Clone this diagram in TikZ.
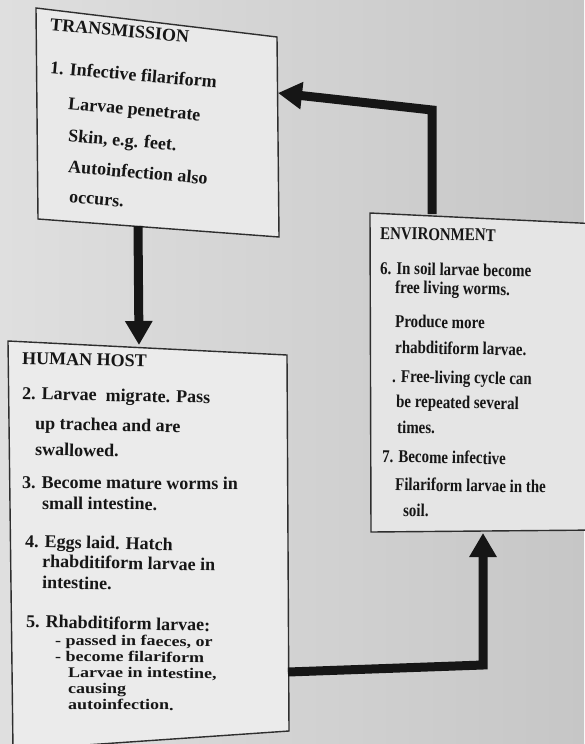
\documentclass[tikz,border=0pt]{standalone}
\usepackage{fontspec}
\setmainfont{Liberation Serif}
\usepackage{graphicx}
\usetikzlibrary{arrows.meta}
\definecolor{bgL}{HTML}{DFDFDF}
\definecolor{bgR}{HTML}{C6C6C6}
\definecolor{boxT}{HTML}{E9E9E9}
\definecolor{boxH}{HTML}{EBEBEB}
\definecolor{boxE}{HTML}{E5E5E5}
\definecolor{frame}{HTML}{2E2E2E}
\definecolor{ink}{HTML}{161616}
\newcommand{\squash}[1]{\scalebox{1}[0.82]{#1}}
\begin{document}
\begin{tikzpicture}[x=1pt,y=-1pt,
  txt/.style={anchor=mid west, inner sep=0pt, text height=11.5pt, text depth=2.5pt, font=\fontsize{18}{20}\selectfont\bfseries, text=ink},
  ttxt/.style={txt, rotate=-5},
  htxt/.style={txt, rotate=-1.2},
  hsmall/.style={txt, rotate=-0.4},
  etxt/.style={txt, rotate=-1},
  boxline/.style={draw=frame, line width=1.4pt, line join=miter},
  flow/.style={draw=ink, line width=9pt, line join=miter, -{Triangle[length=24pt,width=26pt]}}]
\path[use as bounding box] (0,0) rectangle (584,744);
\shade[left color=bgL, right color=bgR] (0,0) rectangle (584,744);

% boxes
\coordinate (tTL) at (36,8);
\coordinate (tTR) at (277,37);
\coordinate (tBR) at (279,237);
\coordinate (tBL) at (38,219);
\draw[boxline, fill=boxT] (tTL) -- (tTR) -- (tBR) -- (tBL) -- cycle;

\coordinate (hTL) at (8,341);
\coordinate (hTR) at (287,355);
\coordinate (hBR) at (289,731);
\coordinate (hBL) at (13,750);
\draw[boxline, fill=boxH] (hTL) -- (hTR) -- (hBR) -- (hBL) -- cycle;

\coordinate (eTL) at (370,213);
\coordinate (eTR) at (600,224);
\coordinate (eBR) at (600,530);
\coordinate (eBL) at (371,532);
\draw[boxline, fill=boxE] (eTL) -- (eTR) -- (eBR) -- (eBL) -- cycle;

% transmission text
\node[ttxt] (t0) at (50,28) {TRANSMISSION};
\node[ttxt] (t1) at (50,71) {1. Infective filariform};
\node[ttxt] (t2) at (68,107) {Larvae penetrate};
\node[ttxt] (t3) at (68,139) {Skin, e.g. feet.};
\node[ttxt] (t4) at (68,170) {Autoinfection also};
\node[ttxt] (t5) at (69,200) {occurs.};

% human host text
\node[htxt] (h0) at (22,362) {HUMAN HOST};
\node[htxt] (h1) at (22,397) {2. Larvae\ \ migrate. Pass};
\node[htxt] (h2) at (35,427) {up trachea and are};
\node[htxt] (h3) at (35,453) {swallowed.};
\node[hsmall] (h4) at (22,486) {3. Become mature worms in};
\node[hsmall] (h5) at (42,507) {small intestine.};
\node[htxt] (h6) at (25,545) {4. Eggs laid. Hatch};
\node[htxt] (h7) at (42,565) {rhabditiform larvae in};
\node[htxt] (h8) at (42,586) {intestine.};
\node[htxt] (h9) at (26,625) {5. Rhabditiform larvae:};
\node[hsmall] (h10) at (55,643) {\squash{- passed in faeces, or}};
\node[hsmall] (h11) at (55,659) {\squash{- become filariform}};
\node[hsmall] (h12) at (68,675) {\squash{Larvae in intestine,}};
\node[hsmall] (h13) at (68,691) {\squash{causing}};
\node[hsmall] (h14) at (68,707) {\squash{autoinfection.}};

% environment text
\node[etxt] (e0) at (380,237) {\scalebox{0.83}[1]{ENVIRONMENT}};
\node[etxt] (e1) at (380,272) {\scalebox{0.83}[1]{6. In soil larvae become}};
\node[etxt] (e2) at (395,291) {\scalebox{0.83}[1]{free living worms.}};
\node[etxt] (e3) at (395,325) {\scalebox{0.83}[1]{Produce more}};
\node[etxt] (e4) at (395,351) {\scalebox{0.83}[1]{rhabditiform larvae.}};
\node[etxt] (e5) at (392,380) {\scalebox{0.83}[1]{. Free-living cycle can}};
\node[etxt] (e6) at (396,405) {\scalebox{0.83}[1]{be repeated several}};
\node[etxt] (e7) at (397,431) {\scalebox{0.83}[1]{times.}};
\node[etxt] (e8) at (382,460) {\scalebox{0.83}[1]{7. Become infective}};
\node[etxt] (e9) at (395,488) {\scalebox{0.83}[1]{Filariform larvae in the}};
\node[etxt] (e10) at (403,514) {\scalebox{0.83}[1]{soil.}};

% connectors
\coordinate (a1s) at (138,226);
\coordinate (a1e) at (139,345);
\draw[flow] (a1s) -- (a1e);

\coordinate (a2s) at (432,214);
\coordinate (a2c) at (432,110);
\coordinate (a2e) at (278,93);
\draw[flow] (a2s) -- (a2c) -- (a2e);

\coordinate (a3s) at (288,672);
\coordinate (a3c) at (483,665);
\coordinate (a3e) at (483,533);
\draw[flow] (a3s) -- (a3c) -- (a3e);
\end{tikzpicture}
\end{document}
